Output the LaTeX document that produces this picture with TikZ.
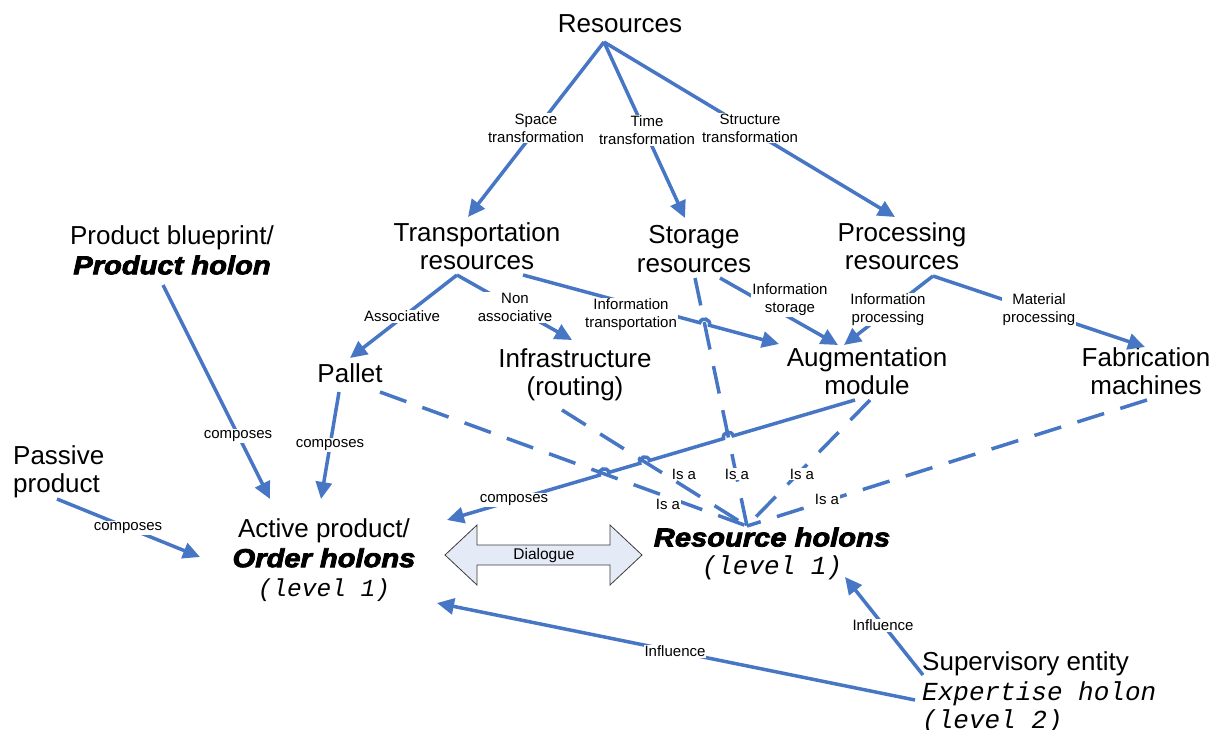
\documentclass[tikz,border=0pt]{standalone}
\usepackage{fontspec}
\setmainfont{Liberation Sans}
\newfontfamily\heavyfont{Liberation Sans}[BoldItalicFeatures={FakeBold=3}]
\newfontfamily\codefont{Liberation Mono}
\usetikzlibrary{arrows.meta,calc}
\definecolor{linkblue}{RGB}{70,118,196}
\definecolor{dlgfill}{RGB}{228,235,247}
\definecolor{dlgedge}{RGB}{60,60,60}
\newcommand\holonname[1]{\scalebox{1.12}[1]{\heavyfont\bfseries\itshape #1}}
\newcommand\levelname[1]{{\codefont\itshape #1}}

\begin{document}
\begin{tikzpicture}[x=1pt,y=-1pt,
  bigtext/.style={font=\fontsize{26}{28.5}\selectfont, align=center, inner sep=0pt},
  lbl/.style={font=\fontsize{15}{18}\selectfont, align=center, fill=white, inner sep=1pt},
  link/.style={draw=linkblue, line width=3.5pt, -{Triangle[length=17pt,width=16pt]}},
  isa/.style={draw=linkblue, line width=3.5pt, dash pattern=on 28pt off 17pt}]
\useasboundingbox (0,0) rectangle (1218,729);

% ---- entities ----
\node[bigtext] (res) at (620,24) {Resources};
\node[bigtext] (trans) at (477,246) {Transportation\\resources};
\node[bigtext] (stor) at (694,249) {Storage\\resources};
\node[bigtext] (proc) at (902,246) {Processing\\resources};
\node[bigtext] (blueprint) at (172,250) {Product blueprint/\\[1.5pt]\holonname{Product holon}};
\node[bigtext] (pallet) at (350,373) {Pallet};
\node[bigtext] (infra) at (575,375) {Infrastructure\\(routing)};
\node[bigtext] (aug) at (867,371) {Augmentation\\module};
\node[bigtext] (fab) at (1146,371) {Fabrication\\machines};
\node[bigtext, anchor=west, align=left] (passive) at (13,472) {Passive\\product};
\node[bigtext] (order) at (324,560) {Active product/\\[1.5pt]\holonname{Order holons}\\[1pt]{\fontsize{24.5}{28.5}\selectfont\levelname{(level 1)}}};
\node[bigtext] (reshol) at (772,554) {\holonname{Resource holons}\\\levelname{(level 1)}};
\node[bigtext, anchor=west, align=left] (super) at (922,693) {Supervisory entity\\[1pt]\levelname{Expertise holon}\\\levelname{(level 2)}};

% ---- connector end points ----
\coordinate (resapex) at (604,42);
\coordinate (spaceend) at (468,217);
\coordinate (timeend) at (685,218);
\coordinate (structend) at (895,217);
\coordinate (transapex) at (457,275);
\coordinate (palletend) at (350,358);
\coordinate (infraend) at (572,340);
\coordinate (transinfo) at (523,275);
\coordinate (auginA) at (779,344);
\coordinate (storinfo) at (720,278);
\coordinate (auginB) at (838,345);
\coordinate (procapex) at (933,276);
\coordinate (auginC) at (844,345);
\coordinate (fabend) at (1145,347);
\coordinate (bpout) at (163,285);
\coordinate (ordinA) at (270,499);
\coordinate (palout) at (339,392);
\coordinate (ordinB) at (321,499);
\coordinate (passout) at (57,499);
\coordinate (ordinC) at (200,557);
\coordinate (augout) at (855,400);
\coordinate (ordinD) at (447,520);
\coordinate (isapt) at (747,526);
\coordinate (paldash) at (380,392);
\coordinate (infradash) at (562,410);
\coordinate (stordash) at (695,278);
\coordinate (augdash) at (870,400);
\coordinate (fabdash) at (1147,400);
\coordinate (supoutA) at (915,700);
\coordinate (ordinE) at (437,603);
\coordinate (supoutB) at (923,675);
\coordinate (rhin) at (845,577);
% line jumps
\coordinate (jA) at (728.4,437.2);
\coordinate (jB) at (644.7,461.9);
\coordinate (jC) at (604.1,473.8);
\coordinate (jD) at (704.6,324.0);

% ---- "is a" relations ----
\draw[isa] (paldash) -- (isapt);
\draw[isa] (infradash) -- (isapt);
\draw[isa] (stordash) -- (isapt);
\draw[isa] (augdash) -- (isapt);
\draw[isa] (fabdash) -- (isapt);

% ---- resource taxonomy ----
\draw[link] (resapex) -- (spaceend);
\draw[link] (resapex) -- (timeend);
\draw[link] (resapex) -- (structend);
\draw[link] (transapex) -- (palletend);
\draw[link] (transapex) -- (infraend);
\draw[link] (transinfo) -- ($(jD)+(-4.83,-1.30)$)
  .. controls ($(jD)+(-3.09,-7.74)$) and ($(jD)+(6.57,-5.14)$) .. ($(jD)+(4.83,1.30)$)
  -- (auginA);
\draw[link] (storinfo) -- (auginB);
\draw[link] (procapex) -- (auginC);
\draw[link] (procapex) -- (fabend);

% ---- composition ----
\draw[link] (bpout) -- (ordinA);
\draw[link] (palout) -- (ordinB);
\draw[link] (passout) -- (ordinC);
\draw[link] (augout)
  -- ($(jA)+(4.80,-1.41)$) .. controls ($(jA)+(2.92,-7.81)$) and ($(jA)+(-6.68,-4.99)$) .. ($(jA)+(-4.80,1.41)$)
  -- ($(jB)+(4.80,-1.41)$) .. controls ($(jB)+(2.92,-7.81)$) and ($(jB)+(-6.68,-4.99)$) .. ($(jB)+(-4.80,1.41)$)
  -- ($(jC)+(4.80,-1.41)$) .. controls ($(jC)+(2.92,-7.81)$) and ($(jC)+(-6.68,-4.99)$) .. ($(jC)+(-4.80,1.41)$)
  -- (ordinD);

% ---- supervision ----
\draw[link] (supoutA) -- (ordinE);
\draw[link] (supoutB) -- (rhin);

% ---- dialogue ----
\draw[fill=dlgfill, draw=dlgedge, line width=0.8pt]
  (445,555) -- (477,525) -- (477,545) -- (610,545) -- (610,525) -- (642,555)
  -- (610,585) -- (610,565) -- (477,565) -- (477,585) -- cycle;
\node[font=\fontsize{15.5}{18}\selectfont] (dialogue) at (544,555) {Dialogue};

% ---- connector labels ----
\node[lbl] (lspace) at (536,128) {Space\\transformation};
\node[lbl] (ltime) at (647,130.5) {Time\\transformation};
\node[lbl] (lstruct) at (750,128) {Structure\\transformation};
\node[lbl] (lassoc) at (402,316) {Associative};
\node[lbl] (lnonassoc) at (515,307.5) {Non\\associative};
\node[lbl] (linfotr) at (631,315) {Information\\transportation};
\node[lbl] (linfost) at (790,300) {Information\\storage};
\node[lbl] (linfopr) at (888,309.5) {Information\\processing};
\node[lbl] (lmat) at (1039,309.5) {Material\\processing};
\node[lbl] (lcompA) at (238,436) {composes};
\node[lbl] (lcompB) at (330,445) {composes};
\node[lbl] (lcompC) at (128,528) {composes};
\node[lbl] (lcompD) at (514,500) {composes};
\node[lbl] (lisaA) at (684,474) {Is a};
\node[lbl] (lisaB) at (737,474) {Is a};
\node[lbl] (lisaC) at (802,474) {Is a};
\node[lbl] (lisaD) at (668,504) {Is a};
\node[lbl] (lisaE) at (827,499) {Is a};
\node[lbl] (linfA) at (675,651) {Influence};
\node[lbl] (linfB) at (883,625) {Influence};
\end{tikzpicture}
\end{document}
